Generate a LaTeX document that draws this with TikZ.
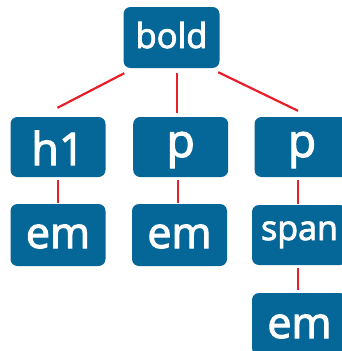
\documentclass[tikz,border=0pt]{standalone}
\usepackage{fontspec}
\setmainfont{Open Sans}[FakeBold=2.6]
\definecolor{boxblue}{RGB}{4,103,152}
\definecolor{linkred}{RGB}{232,30,40}
\begin{document}
\begin{tikzpicture}[x=1pt,y=-1pt,
  tag/.style={draw=none,fill=boxblue,rounded corners=7pt,inner sep=0pt,
    text=white,minimum width=95pt,minimum height=61pt,text depth=0pt},
  link/.style={draw=linkred,line width=2.2pt}]
\useasboundingbox (0,0) rectangle (342,351);
\node[tag,minimum width=96pt,text height=21pt,font=\fontsize{34.5}{34.5}\selectfont] (bold) at (171.5,37.5) {bold};
\node[tag,minimum height=60pt,text height=36pt,font=\fontsize{45}{45}\selectfont] (h1) at (58,147) {h1};
\node[tag,minimum height=60pt,text height=20pt,font=\fontsize{46}{46}\selectfont] (p2) at (180.7,147) {p};
\node[tag,minimum height=60pt,text height=20pt,font=\fontsize{46}{46}\selectfont] (p3) at (302,147) {p};
\node[tag,minimum height=62pt,text height=26pt,font=\fontsize{43}{43}\selectfont] (em1) at (58,235) {em};
\node[tag,minimum height=62pt,text height=26pt,font=\fontsize{43}{43}\selectfont] (em2) at (179.5,235) {em};
\node[tag,minimum height=60pt,text height=10pt,font=\fontsize{34}{34}\selectfont] (span) at (299.5,235) {span};
\node[tag,minimum height=62pt,text height=28pt,font=\fontsize{43}{43}\selectfont] (em3) at (299.5,324) {em};
\draw[link] ([xshift=1pt,yshift=-5pt]bold.south west) -- ([xshift=-0.5pt,yshift=9pt]h1.north);
\draw[link] ([xshift=5.5pt,yshift=-5pt]bold.south) -- ([xshift=-3.7pt,yshift=4pt]p2.north);
\draw[link] ([xshift=-1.5pt,yshift=-4pt]bold.south east) -- ([xshift=-4pt,yshift=6pt]p3.north);
\draw[link] ([yshift=-3pt]h1.south) -- ([yshift=1pt]em1.north);
\draw[link] ([xshift=-2.7pt,yshift=-3pt]p2.south) -- ([xshift=-1.5pt,yshift=1pt]em2.north);
\draw[link] ([xshift=-4pt,yshift=-3pt]p3.south) -- ([xshift=-1.5pt,yshift=1pt]span.north);
\draw[link] ([xshift=-1.5pt,yshift=-3pt]span.south) -- ([xshift=-1.5pt,yshift=3pt]em3.north);
\end{tikzpicture}
\end{document}
